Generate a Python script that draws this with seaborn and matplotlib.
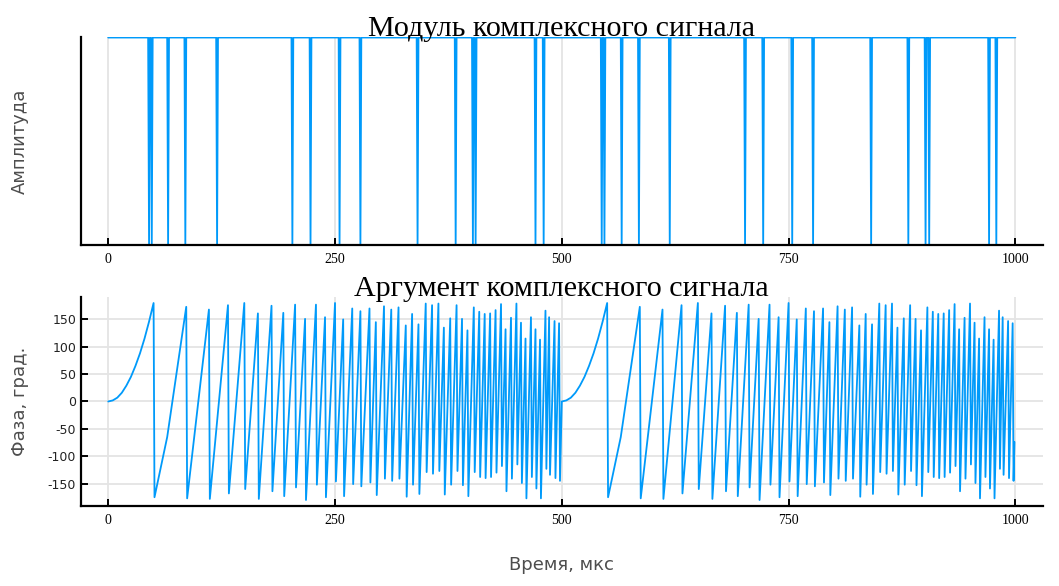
import matplotlib
matplotlib.use("Agg")
import matplotlib.pyplot as plt
import numpy as np
import pandas as pd
import seaborn as sns

# ---- data ----
# times (us) where the amplitude drops to zero
dip_times = [45, 48, 66, 85, 120, 203, 223, 255, 278, 341, 383, 402, 405, 471, 480,
             544, 547, 566, 585, 619, 702, 722, 754, 777, 841, 882, 901, 905, 971, 979]
amp_level = 1.0
t_start, t_end = 0, 1000

# phase of one pulse (0..499 us): rising curve, then wrapped saw-teeth
pulse_t = [0, 5, 10, 15, 20, 25, 30, 35, 40, 45, 50, 51, 65,
           86, 87, 111, 112, 132, 133, 150, 151, 165, 166, 180, 181,
           193, 194, 206, 207, 217, 218, 229, 230, 239, 240, 250, 251,
           259, 260, 269, 270, 278, 279, 288, 289, 295, 296, 304, 305,
           312, 313, 320, 321, 328, 329, 335, 336, 342, 343, 350, 351,
           357, 358, 364, 365, 370, 371, 377, 378, 384, 385, 390, 391,
           396, 397, 403, 404, 409, 410, 415, 416, 421, 422, 427, 428,
           433, 434, 438, 439, 444, 445, 450, 451, 455, 456, 460, 461,
           466, 467, 471, 472, 476, 477, 482, 483, 486, 487, 492, 493,
           497, 498, 499]
pulse_phase = [0, 2, 7, 16, 29, 45, 65, 88, 115, 146, 180, -175, -65,
               173, -177, 168, -178, 176, -168, 180, -160, 161, -178, 175, -164,
               162, -173, 177, -157, 151, -180, 177, -152, 154, -175, 180, -146,
               150, -173, 170, -151, 165, -155, 170, -148, 145, -171, 174, -141,
               168, -145, 172, -141, 139, -174, 160, -152, 141, -169, 179, -129,
               176, -132, 179, -127, 135, -170, 152, -152, 176, -127, 151, -153,
               130, -173, 172, -129, 164, -138, 160, -140, 161, -138, 167, -130,
               178, -118, 132, -164, 153, -141, 179, -115, 144, -149, 115, -177,
               154, -138, 132, -159, 113, -177, 166, -123, 154, -134, 147, -140,
               143, -145, -74]
pulse_period = 500  # the pulse is repeated twice

x_ticks = [0, 250, 500, 750, 1000]
y_ticks = [-150, -100, -50, 0, 50, 100, 150]

# amplitude trace: level 1 with one-sample drops to 0
amp_t = [t_start]
amp_v = [amp_level]
for d in dip_times:
    amp_t += [d - 1, d, d + 1]
    amp_v += [amp_level, 0.0, amp_level]
amp_t.append(t_end)
amp_v.append(amp_level)
df_amp = pd.DataFrame({"t": amp_t, "amp": amp_v})

ph_t = pulse_t + [t + pulse_period for t in pulse_t]
ph_v = pulse_phase + pulse_phase
df_ph = pd.DataFrame({"t": ph_t, "phase": ph_v})

# ---- plotting ----
sns.set_theme(style="white")
plt.rcParams["font.family"] = ["DejaVu Sans"]

line_color = "#009AFA"
grid_color = "#e4e4e4"
label_color = "#4d4d4d"

fig = plt.figure(figsize=(10.59, 5.86), dpi=100)
ax1 = fig.add_axes([0.0765, 0.582, 0.908, 0.355])
ax2 = fig.add_axes([0.0765, 0.1365, 0.908, 0.3567])

sns.lineplot(ax=ax1, data=df_amp, x="t", y="amp", sort=False, estimator=None,
             color=line_color, linewidth=1.3)
sns.lineplot(ax=ax2, data=df_ph, x="t", y="phase", sort=False, estimator=None,
             color=line_color, linewidth=1.3)

for ax in (ax1, ax2):
    ax.set_xlim(-30, 1030)
    ax.set_xticks(x_ticks)
    ax.grid(True, axis="x", color=grid_color, linewidth=1.3)
    ax.set_axisbelow(True)
    for s in ("top", "right"):
        ax.spines[s].set_visible(False)
    for s in ("left", "bottom"):
        ax.spines[s].set_color("black")
        ax.spines[s].set_linewidth(1.6)
    ax.tick_params(axis="both", direction="in", length=5, width=1.4, color="black",
                   bottom=True, left=True)
    ax.tick_params(axis="x", pad=6)
    ax.set_xticklabels([str(v) for v in x_ticks], family="Liberation Serif",
                       fontsize=10, color="black")
    ax.set_xlabel("")

ax1.set_ylim(0, 1.003)
ax1.set_yticks([])
ax1.set_ylabel("Амплитуда", fontsize=13, color=label_color)
ax1.yaxis.set_label_coords(-0.054, 0.5)
ax1.set_title("Модуль комплексного сигнала", family="Liberation Serif",
              fontsize=21.6, pad=1, color="black")

ax2.set_ylim(-191, 191)
ax2.set_yticks(y_ticks)
ax2.set_yticklabels([str(v) for v in y_ticks], fontsize=9, color="#222222")
ax2.grid(True, axis="y", color=grid_color, linewidth=1.3)
ax2.set_ylabel("Фаза, град.", fontsize=13, color=label_color)
ax2.yaxis.set_label_coords(-0.054, 0.5)
ax2.set_xlabel("Время, мкс", fontsize=13, color=label_color)
ax2.xaxis.set_label_coords(0.5, -0.24)
ax2.set_title("Аргумент комплексного сигнала", family="Liberation Serif",
              fontsize=21.6, pad=1, color="black")

fig.savefig("out.png", dpi=100)
